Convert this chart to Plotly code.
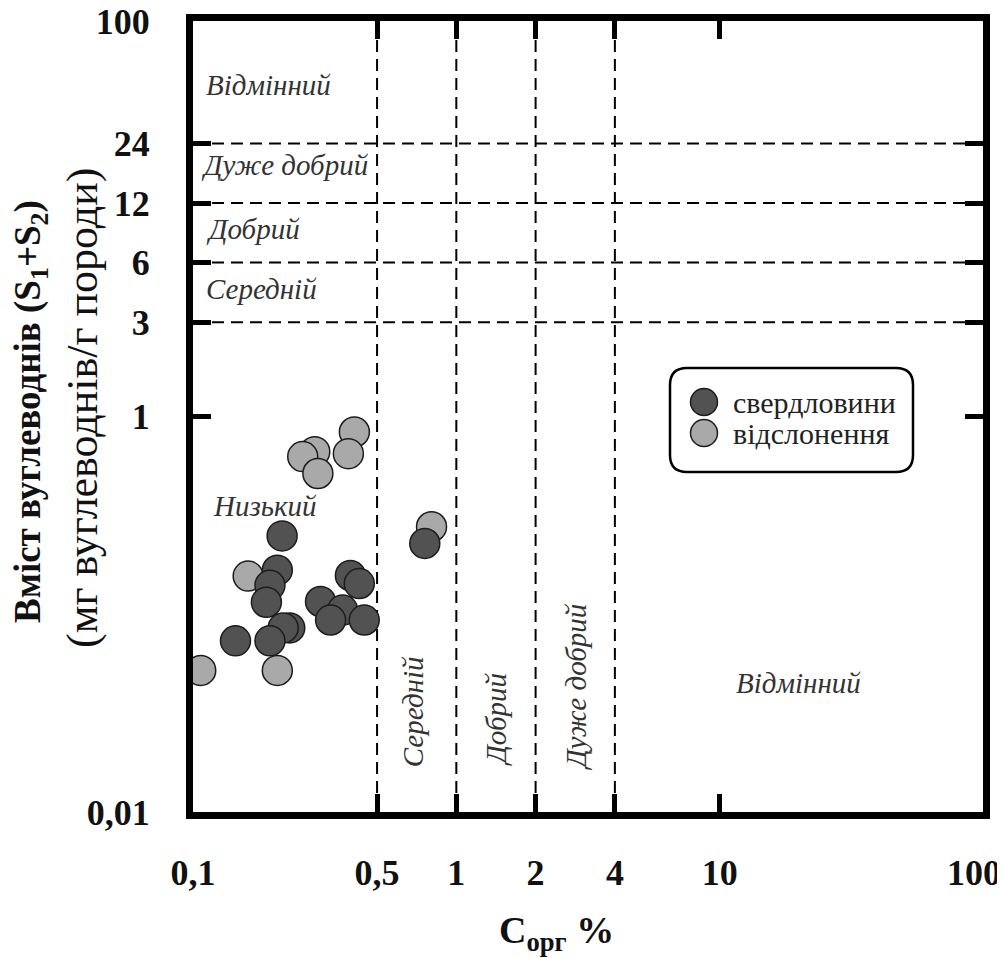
import numpy as np
import plotly.graph_objects as go

# ---------------- data ----------------
series_names = ["свердловини", "відслонення"]

# wells (dark markers): C_org %, S1+S2 mg HC / g rock
well_toc = [0.218, 0.209, 0.196, 0.190, 0.759, 0.396, 0.428, 0.305, 0.370,
            0.333, 0.447, 0.145, 0.233, 0.220, 0.196]
well_s = [0.249, 0.167, 0.140, 0.115, 0.228, 0.157, 0.143, 0.116, 0.105,
          0.0935, 0.0935, 0.0734, 0.0853, 0.0853, 0.0734]

# outcrops (light markers)
outcrop_toc = [0.410, 0.389, 0.290, 0.261, 0.298, 0.805, 0.162, 0.107, 0.209]
outcrop_s = [0.835, 0.649, 0.664, 0.627, 0.515, 0.277, 0.156, 0.052, 0.052]

x_tickvals = [0.1, 0.5, 1, 2, 4, 10, 100]
x_ticktext = ["0,1", "0,5", "1", "2", "4", "10", "100"]
y_tickvals = [0.01, 1, 3, 6, 12, 24, 100]
y_ticktext = ["0,01", "1", "3", "6", "12", "24", "100"]

toc_bounds = [0.5, 1, 2, 4]
s_bounds = [3, 6, 12, 24]

# class labels: S1+S2 classes (horizontal) and TOC classes
s_class_text = ["Відмінний", "Дуже добрий", "Добрий", "Середній", "Низький"]
s_class_x = [0.193, 0.224, 0.169, 0.182, 0.187]
s_class_y = [47.3, 18.6, 8.9, 4.4, 0.352]

toc_class_text = ["Середній", "Добрий", "Дуже добрий"]
toc_class_x = [0.685, 1.41, 2.85]
toc_class_y = [0.0320, 0.0292, 0.0430]

exc_text = "Відмінний"
exc_x = 20.0
exc_y = 0.0448

# ---------------- styles ----------------
FONT = "Liberation Serif"
DARK = "#525252"
LIGHT = "#a9a9a9"
EDGE = "#1c1c1c"
OFF = 8                      # page body offset
W, H = 1005, 958
PW, PH = 790, 791
ML, MT = 193 - OFF, 21 - OFF
MR, MB = W - ML - PW, H - MT - PH


def px2paper_x(px):
    return (px - OFF - ML) / PW


def px2paper_y(py):
    return (OFF + MT + PH - py) / PH


fig = go.Figure()

fig.add_trace(go.Scatter(
    x=outcrop_toc, y=outcrop_s, mode="markers", name=series_names[1],
    marker=dict(size=30, color=LIGHT, line=dict(color=EDGE, width=1.5)),
    showlegend=False))
fig.add_trace(go.Scatter(
    x=well_toc, y=well_s, mode="markers", name=series_names[0],
    marker=dict(size=30, color=DARK, line=dict(color=EDGE, width=1.5)),
    showlegend=False))

shapes = []
for v in toc_bounds:
    shapes.append(dict(type="line", xref="x", yref="y domain", x0=v, x1=v, y0=0, y1=1,
                       line=dict(color="black", width=2, dash="12px,7px"), layer="below"))
for v in s_bounds:
    shapes.append(dict(type="line", xref="x domain", yref="y", x0=0, x1=1, y0=v, y1=v,
                       line=dict(color="black", width=2, dash="12px,7px"), layer="below"))

# custom legend box (rounded)
bx0, bx1 = px2paper_x(670), px2paper_x(913)
by_top, by_bot = px2paper_y(368), px2paper_y(472)
rx, ry = 17 / PW, 17 / PH
path = (f"M {bx0+rx},{by_top} L {bx1-rx},{by_top} Q {bx1},{by_top} {bx1},{by_top-ry} "
        f"L {bx1},{by_bot+ry} Q {bx1},{by_bot} {bx1-rx},{by_bot} "
        f"L {bx0+rx},{by_bot} Q {bx0},{by_bot} {bx0},{by_bot+ry} "
        f"L {bx0},{by_top-ry} Q {bx0},{by_top} {bx0+rx},{by_top} Z")
shapes.append(dict(type="path", xref="paper", yref="paper", path=path,
                   line=dict(color="black", width=2.5), fillcolor="white"))

legend_rows = [(series_names[0], DARK, 402), (series_names[1], LIGHT, 433)]
annotations = []
for name, col, py in legend_rows:
    shapes.append(dict(type="circle", xref="paper", yref="paper",
                       xsizemode="pixel", ysizemode="pixel",
                       xanchor=px2paper_x(704), yanchor=px2paper_y(py),
                       x0=-13.5, x1=13.5, y0=-13.5, y1=13.5,
                       fillcolor=col, line=dict(color=EDGE, width=1.5)))
    annotations.append(dict(xref="paper", yref="paper", x=px2paper_x(731), y=px2paper_y(py),
                            xanchor="left", yanchor="middle", showarrow=False, text=name,
                            font=dict(family=FONT, size=30, color="#222222",
                                      weight="normal", style="normal")))

label_font = dict(family=FONT, size=29, color="#333333", style="italic", weight="normal")
for t, xv, yv in zip(s_class_text, s_class_x, s_class_y):
    annotations.append(dict(x=np.log10(xv), y=np.log10(yv), xref="x", yref="y", text=t,
                            showarrow=False, font=label_font))
for t, xv, yv in zip(toc_class_text, toc_class_x, toc_class_y):
    annotations.append(dict(x=np.log10(xv), y=np.log10(yv), xref="x", yref="y", text=t,
                            showarrow=False, textangle=-90, font=label_font))
annotations.append(dict(x=np.log10(exc_x), y=np.log10(exc_y), xref="x", yref="y", text=exc_text,
                        showarrow=False, font=label_font))

# axis titles
annotations.append(dict(xref="paper", yref="paper", x=px2paper_x(30), y=px2paper_y(412),
                        text="Вміст вуглеводнів (S<sub>1</sub>+S<sub>2</sub>)", textangle=-90,
                        showarrow=False, xanchor="center", yanchor="middle",
                        font=dict(family=FONT, size=37, color="#111111", weight="bold")))
annotations.append(dict(xref="paper", yref="paper", x=px2paper_x(82), y=px2paper_y(408),
                        text="(мг вуглеводнів/г породи)", textangle=-90,
                        showarrow=False, xanchor="center", yanchor="middle",
                        font=dict(family=FONT, size=44, color="#111111",
                                  weight="normal", style="normal")))
annotations.append(dict(xref="paper", yref="paper", x=px2paper_x(556), y=px2paper_y(933),
                        text="C<sub>орг</sub> %", showarrow=False,
                        xanchor="center", yanchor="middle",
                        font=dict(family=FONT, size=38, color="#111111", weight="bold")))

axis_common = dict(type="log", showline=True, linewidth=7, linecolor="black", mirror="ticks",
                   ticks="inside", ticklen=18, tickwidth=5, tickcolor="black",
                   showgrid=False, zeroline=False, ticklabeloverflow="allow",
                   tickfont=dict(family=FONT, size=36, color="#111111", weight="bold"))

# last x label padded with an invisible digit so it sits left of the frame corner
x_ticktext_shown = x_ticktext[:-1] + [x_ticktext[-1] + "<span style='color:white'>0</span>"]

fig.update_layout(
    width=W, height=H,
    margin=dict(l=ML, r=MR, t=MT, b=MB, autoexpand=False),
    plot_bgcolor="white", paper_bgcolor="white",
    font=dict(family=FONT),
    xaxis=dict(range=[-1, 2], tickmode="array", tickvals=x_tickvals, ticktext=x_ticktext_shown,
               ticklabelstandoff=23, **axis_common),
    yaxis=dict(range=[-2, 2], tickmode="array", tickvals=y_tickvals, ticktext=y_ticktext,
               ticklabelstandoff=29, **axis_common),
    shapes=shapes,
    annotations=annotations,
    showlegend=False,
)

fig.write_html("out.html")
